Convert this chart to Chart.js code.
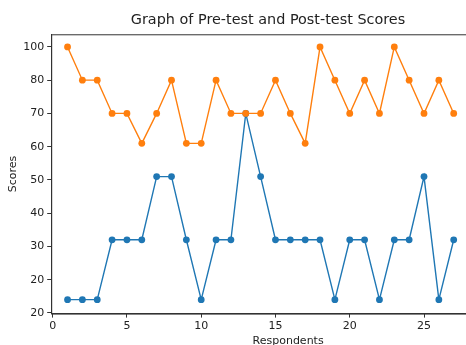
<!DOCTYPE html>
<html>
<head>
<meta charset="utf-8">
<script src="https://cdn.jsdelivr.net/npm/chart.js@4/dist/chart.umd.min.js"></script>
<style>
    html, body { margin: 0; padding: 0; background: #fff; overflow: hidden; }
</style>
</head>
<body>
<canvas id="scores-chart" width="529" height="345"></canvas>
<script>
var respondents = [1, 2, 3, 4, 5, 6, 7, 8, 9, 10, 11, 12, 13, 14, 15, 16, 17, 18, 19, 20, 21, 22, 23, 24, 25, 26, 27];
var preTest = [24, 24, 24, 42, 42, 42, 61, 61, 42, 24, 42, 42, 80, 61, 42, 42, 42, 42, 24, 42, 42, 24, 42, 42, 61, 24, 42];
var postTest = [100, 90, 90, 80, 80, 71, 80, 90, 71, 71, 90, 80, 80, 80, 90, 80, 71, 100, 90, 80, 90, 80, 100, 90, 80, 90, 80];
var xTicks = [0, 5, 10, 15, 20, 25];
var yTicks = [20, 30, 40, 50, 60, 70, 80, 90, 100];
var yTickLabels = ["20", "20", "30", "40", "50", "60", "70", "80", "100"];

function toPoints(values) {
    return values.map(function (v, i) { return { x: respondents[i], y: v }; });
}

// box round the plot, like matplotlib spines
var frame = {
    id: "frame",
    beforeDatasetsDraw: function (chart) {
        var a = chart.chartArea, ctx = chart.ctx;
        ctx.save();
        ctx.strokeStyle = "#333";
        ctx.lineWidth = 1;
        ctx.strokeRect(a.left + 0.5, a.top + 0.5, a.right - a.left, a.bottom - a.top);
        ctx.restore();
    }
};

var tickFont = { family: "DejaVu Sans", size: 11 };

new Chart("scores-chart", {
    type: "line",
    data: {
        datasets: [
            {
                label: "Post-test",
                data: toPoints(postTest),
                borderColor: "#ff7f0e",
                backgroundColor: "#ff7f0e",
                borderWidth: 1.4,
                pointRadius: 3.4,
                pointBorderWidth: 0,
                order: 0,
            },
            {
                label: "Pre-test",
                data: toPoints(preTest),
                borderColor: "#1f77b4",
                backgroundColor: "#1f77b4",
                borderWidth: 1.4,
                pointRadius: 3.4,
                pointBorderWidth: 0,
                order: 1,
            },
        ],
    },
    options: {
        responsive: false,
        animation: false,
        layout: { padding: { left: 7, top: 12, right: 0, bottom: -3 } },
        plugins: {
            legend: { display: false },
            tooltip: { enabled: false },
            title: {
                display: true,
                text: "Graph of Pre-test and Post-test Scores",
                color: "#222",
                font: { family: "DejaVu Sans", size: 14.4, weight: "normal" },
                padding: { top: 0, bottom: 5 },
            },
        },
        scales: {
            x: {
                type: "linear",
                min: -0.1,
                max: 31.8,
                afterBuildTicks: function (scale) {
                    scale.ticks = xTicks.map(function (v) { return { value: v }; });
                },
                grid: { drawOnChartArea: false, drawTicks: true, tickLength: 4, color: "#333" },
                border: { display: true, color: "#333" },
                ticks: { color: "#222", font: tickFont, padding: 2, maxRotation: 0 },
                title: { display: true, text: "Respondents", color: "#222", font: tickFont, padding: { top: 0, bottom: 0 } },
            },
            y: {
                type: "linear",
                min: 19.8,
                max: 103.8,
                afterBuildTicks: function (scale) {
                    scale.ticks = yTicks.map(function (v) { return { value: v }; });
                },
                grid: { drawOnChartArea: false, drawTicks: true, tickLength: 4, color: "#333" },
                border: { display: true, color: "#333" },
                ticks: {
                    color: "#222",
                    font: tickFont,
                    padding: 3,
                    callback: function (value) {
                        return yTickLabels[yTicks.indexOf(value)];
                    },
                },
                title: { display: true, text: "Scores", color: "#222", font: tickFont, padding: 0 },
            },
        },
    },
    plugins: [frame],
});
</script>
</body>
</html>
